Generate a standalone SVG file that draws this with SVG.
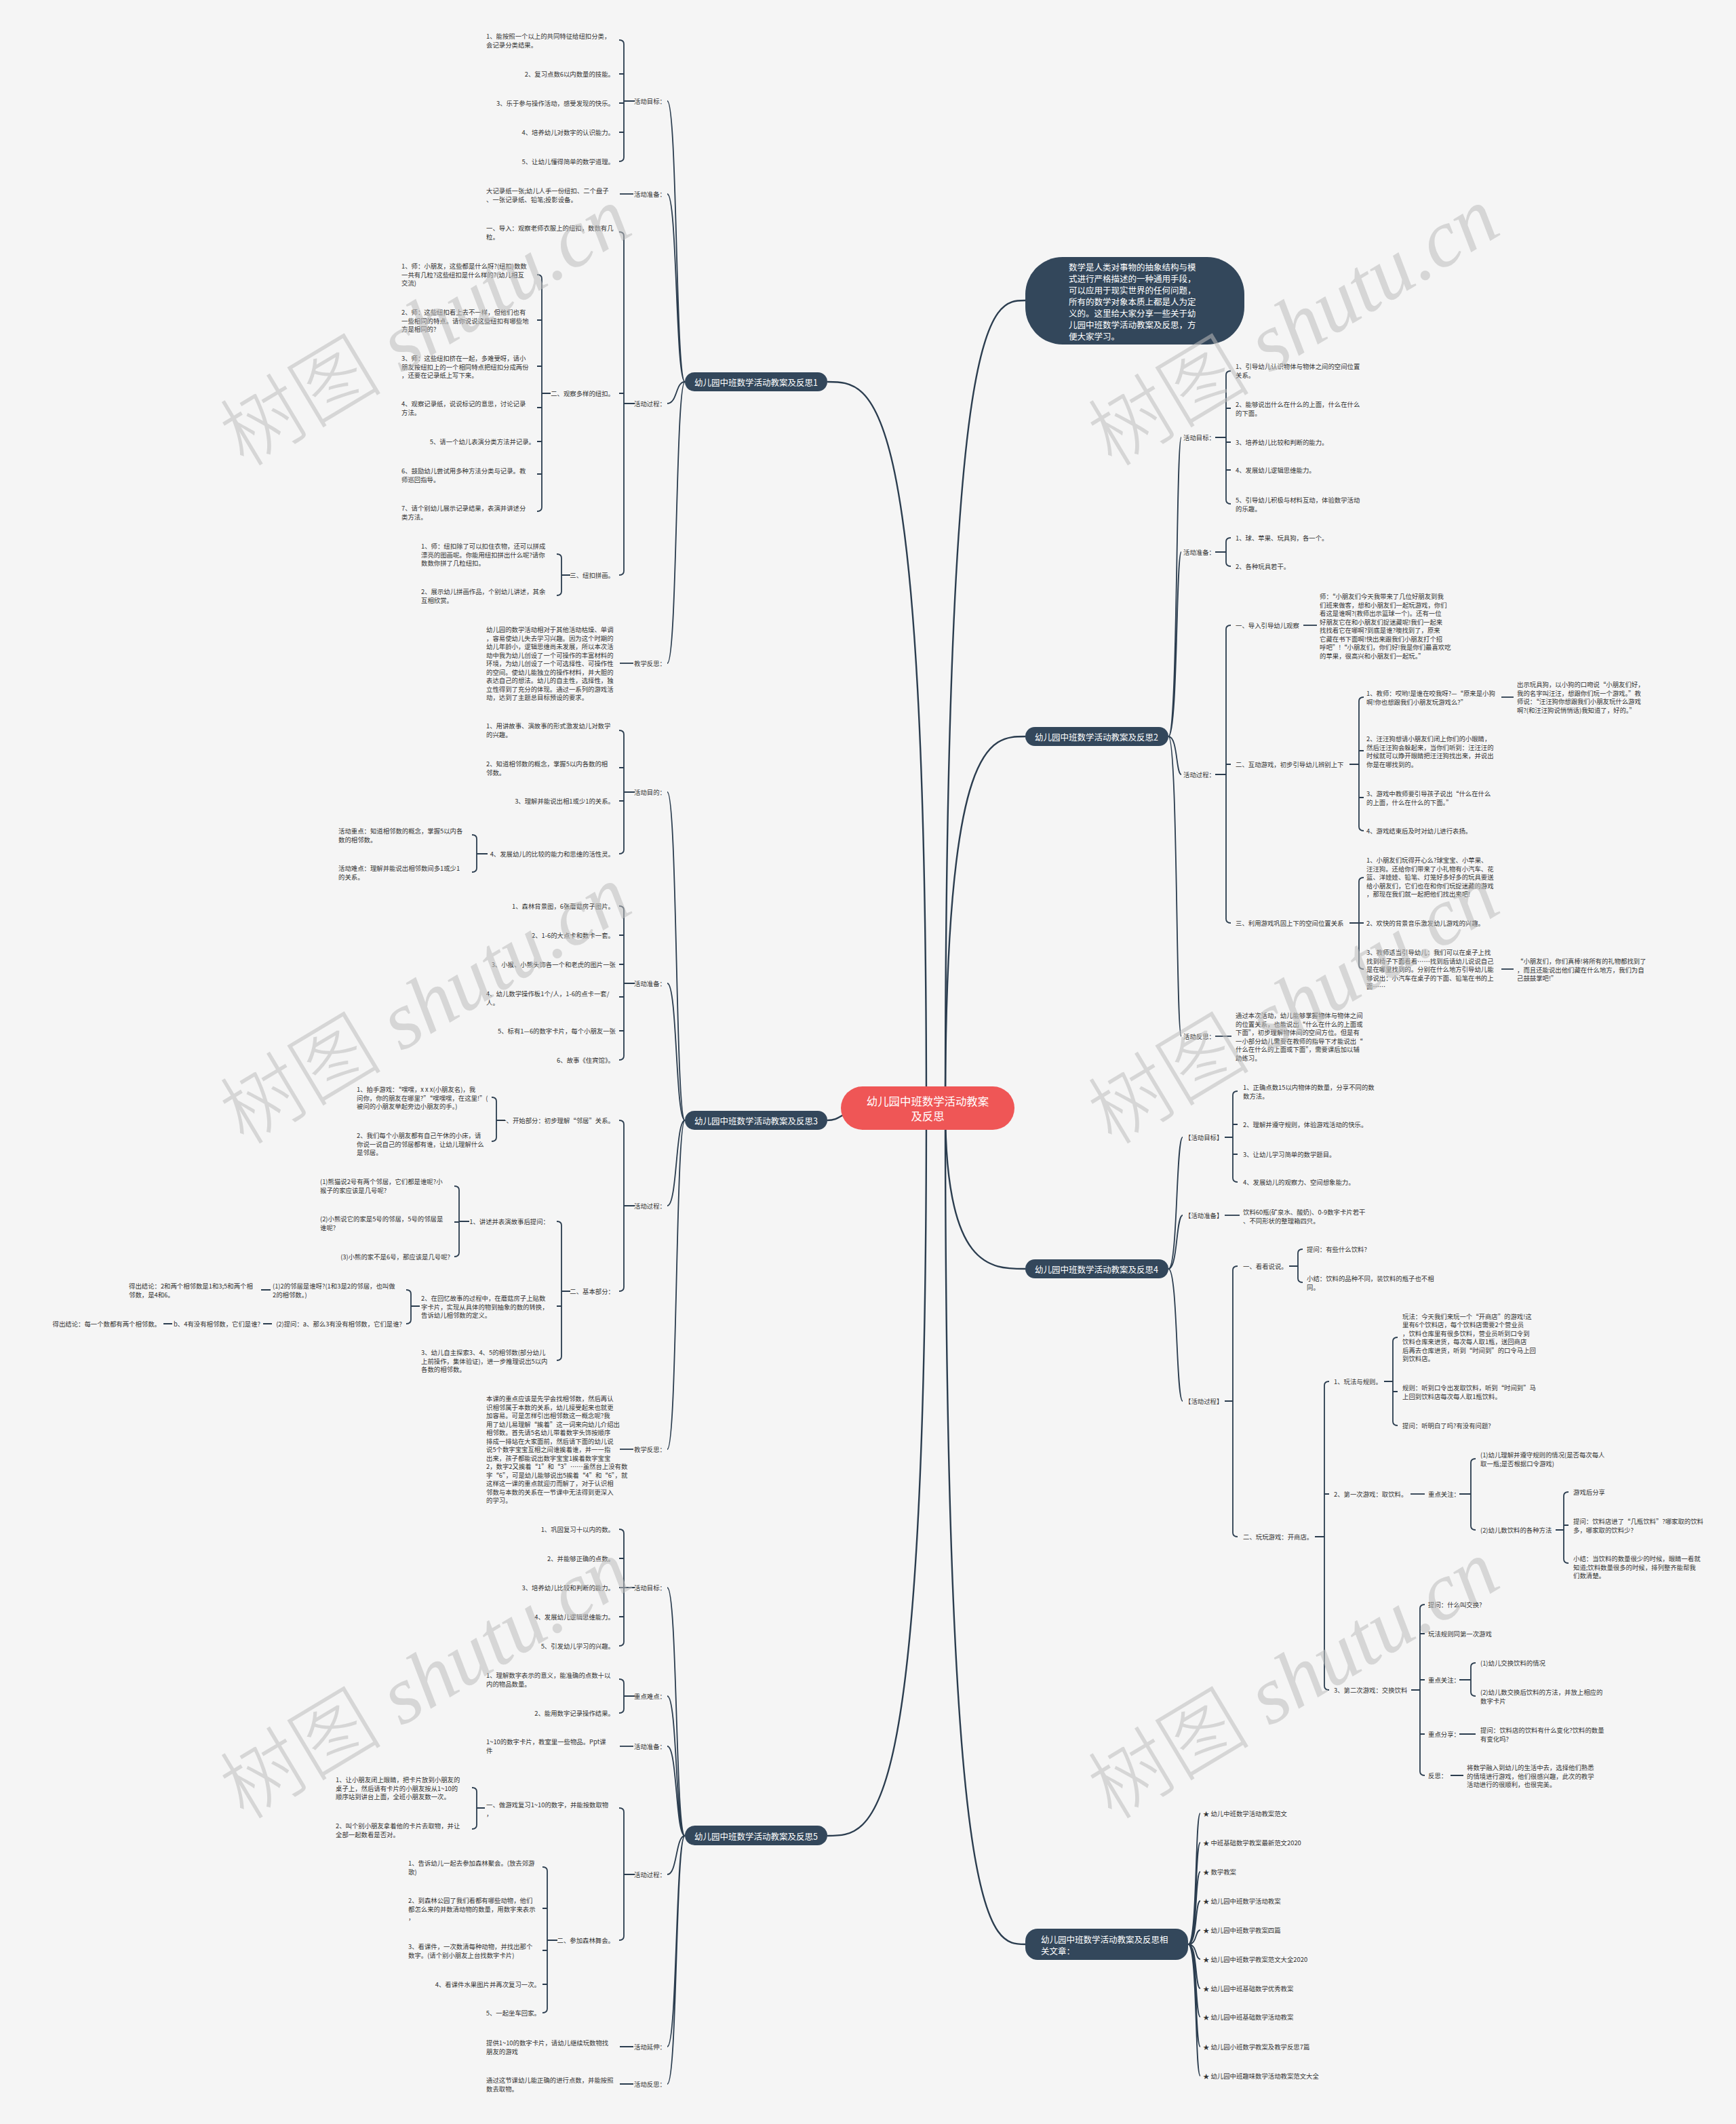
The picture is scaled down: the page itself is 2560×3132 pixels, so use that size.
<svg xmlns="http://www.w3.org/2000/svg" width="2560" height="3132" viewBox="0 0 2560 3132">
<style>
.t{font-family:"Noto Sans CJK SC","Noto Sans",sans-serif;font-size:9.4px;fill:#333;dominant-baseline:central}
.e{text-anchor:end}
.bt{font-family:"Noto Sans CJK SC","Noto Sans",sans-serif;font-size:12.5px;fill:#fff;dominant-baseline:central}
.m{text-anchor:middle}
.n{fill:#33475b}
.main{fill:none;stroke:#2b3d4f;stroke-width:2.4}
.l{fill:none;stroke:#2b3d4f;stroke-width:1.8}
.k{fill:none;stroke:#2b3d4f;stroke-width:1.8}
.wm{font-family:"Liberation Serif",serif;font-style:italic;font-size:120px;fill:#bdbdbd;opacity:0.55}
.wm tspan.cj{font-family:"Noto Sans CJK SC",sans-serif;font-style:normal;font-weight:300}
</style>
<rect width="2560" height="3132" fill="#f5f5f5"/>

<g id="connectors">
<path class="main" d="M1366,1634C1366,563 1290,563 1220,563"/>
<path class="main" d="M1260,1640C1240,1640 1240,1652 1220,1652"/>
<path class="main" d="M1366,1634C1366,2707 1290,2707 1220,2707"/>
<path class="main" d="M1394,1634C1394,443 1460,443 1512,443"/>
<path class="main" d="M1394,1634C1394,1086 1460,1086 1512,1086"/>
<path class="main" d="M1394,1634C1394,1871 1460,1871 1512,1871"/>
<path class="main" d="M1394,1634C1394,2867 1460,2867 1512,2867"/>

<path class="l" d="M1010,563C996,563 999,149 984,149M1010,563C996,563 999,286 984,286M1010,563C996,563 999,595 984,595M1010,563C996,563 999,978 984,978"/>
<path class="l" d="M1010,1652C996,1652 999,1168 984,1168M1010,1652C996,1652 999,1450 984,1450M1010,1652C996,1652 999,1778 984,1778M1010,1652C996,1652 999,2137 984,2137"/>
<path class="l" d="M1010,2707C996,2707 999,2341 984,2341M1010,2707C996,2707 999,2501 984,2501M1010,2707C996,2707 999,2575 984,2575M1010,2707C996,2707 999,2764 984,2764M1010,2707C996,2707 999,3018 984,3018M1010,2707C996,2707 999,3073 984,3073"/>
<path class="l" d="M1723,1086C1737,1086 1734,645 1742,645M1723,1086C1737,1086 1734,814 1742,814M1723,1086C1737,1086 1734,1142 1742,1142M1723,1086C1737,1086 1734,1528 1742,1528"/>
<path class="l" d="M1723,1871C1737,1871 1734,1677 1744,1677M1723,1871C1737,1871 1734,1792 1744,1792M1723,1871C1737,1871 1734,2066 1744,2066"/>
<path class="l" d="M1752,2867C1766,2867 1762,2674 1770,2674M1752,2867C1766,2867 1762,2717 1770,2717M1752,2867C1766,2867 1762,2760 1770,2760M1752,2867C1766,2867 1762,2803 1770,2803M1752,2867C1766,2867 1762,2846 1770,2846M1752,2867C1766,2867 1762,2889 1770,2889M1752,2867C1766,2867 1762,2932 1770,2932M1752,2867C1766,2867 1762,2974 1770,2974M1752,2867C1766,2867 1762,3018 1770,3018M1752,2867C1766,2867 1762,3061 1770,3061"/>

<path class="k" d="M913,59Q920,59 920,65V232Q920,238 913,238M920,109H913M920,152H913M920,195H913M936,149H920"/>
<path class="k" d="M934,286H914"/>
<path class="k" d="M913,342Q920,342 920,348V842Q920,848 913,848M920,580H913M936,595H920"/>
<path class="k" d="M792,405Q799,405 799,411V748Q799,754 792,754M799,472H792M799,540H792M799,601H792M799,651H792M799,699H792M812,580H799"/>
<path class="k" d="M821,817Q828,817 828,823V872Q828,878 821,878M841,848H828"/>
<path class="k" d="M934,978H914"/>

<path class="k" d="M913,1077Q920,1077 920,1083V1253Q920,1259 913,1259M920,1132H913M920,1181H913M936,1168H920"/>
<path class="k" d="M696,1231Q703,1231 703,1237V1280Q703,1286 696,1286M719,1259H703"/>
<path class="k" d="M913,1336Q920,1336 920,1342V1557Q920,1563 913,1563M920,1379H913M920,1422H913M920,1470H913M920,1520H913M936,1450H920"/>
<path class="k" d="M913,1652Q920,1652 920,1658V1898Q920,1904 913,1904M936,1778H920"/>
<path class="k" d="M725,1618Q732,1618 732,1624V1677Q732,1683 725,1683M745,1652H732"/>
<path class="k" d="M821,1801Q828,1801 828,1807V2000Q828,2006 821,2006M828,1926H821M841,1904H828"/>
<path class="k" d="M670,1749Q677,1749 677,1755V1847Q677,1853 670,1853M677,1802H670M692,1801H677"/>
<path class="k" d="M599,1902Q606,1902 606,1908V1946Q606,1952 599,1952M619,1926H606"/>
<path class="k" d="M399,1902H385M401,1952H388M254,1952H241"/>
<path class="k" d="M934,2137H914"/>

<path class="k" d="M913,2255Q920,2255 920,2261V2421Q920,2427 913,2427M920,2298H913M920,2341H913M920,2384H913M936,2341H920"/>
<path class="k" d="M913,2476Q920,2476 920,2482V2520Q920,2526 913,2526M936,2501H920"/>
<path class="k" d="M934,2575H914"/>
<path class="k" d="M913,2666Q920,2666 920,2672V2855Q920,2861 913,2861M936,2764H920"/>
<path class="k" d="M696,2636Q703,2636 703,2642V2691Q703,2697 696,2697M715,2666H703"/>
<path class="k" d="M800,2753Q807,2753 807,2759V2962Q807,2968 800,2968M807,2814H800M807,2876H800M807,2926H800M822,2861H807"/>
<path class="k" d="M934,3018H914M934,3073H914"/>

<path class="k" d="M1815,547Q1808,547 1808,553V737Q1808,743 1815,743M1808,602H1815M1808,652H1815M1808,693H1815M1792,645H1808"/>
<path class="k" d="M1815,793Q1808,793 1808,799V829Q1808,835 1815,835M1792,814H1808"/>
<path class="k" d="M1815,922Q1808,922 1808,928V1355Q1808,1361 1815,1361M1808,1127H1815M1792,1142H1808"/>
<path class="k" d="M1922,922H1942"/>
<path class="k" d="M2011,1028Q2004,1028 2004,1034V1219Q2004,1225 2011,1225M2004,1107H2011M2004,1176H2011M1990,1127H2004"/>
<path class="k" d="M2214,1028H2232"/>
<path class="k" d="M2011,1294Q2004,1294 2004,1300V1423Q2004,1429 2011,1429M2004,1361H2011M1990,1361H2004"/>
<path class="k" d="M2214,1429H2232"/>
<path class="k" d="M1792,1528H1816"/>

<path class="k" d="M1825,1609Q1818,1609 1818,1615V1737Q1818,1743 1825,1743M1818,1658H1825M1818,1702H1825M1806,1677H1818"/>
<path class="k" d="M1806,1792H1828"/>
<path class="k" d="M1825,1867Q1818,1867 1818,1873V2260Q1818,2266 1825,2266M1806,2066H1818"/>
<path class="k" d="M1921,1842Q1914,1842 1914,1848V1885Q1914,1891 1921,1891M1901,1867H1914"/>
<path class="k" d="M1960,2037Q1953,2037 1953,2043V2486Q1953,2492 1960,2492M1953,2203H1960M1939,2266H1953"/>
<path class="k" d="M2061,1972Q2054,1972 2054,1978V2096Q2054,2102 2061,2102M2054,2052H2061M2041,2037H2054"/>
<path class="k" d="M2080,2203H2101"/>
<path class="k" d="M2176,2151Q2169,2151 2169,2157V2250Q2169,2256 2176,2256M2152,2203H2169"/>
<path class="k" d="M2313,2200Q2306,2200 2306,2206V2299Q2306,2305 2313,2305M2306,2249H2313M2294,2256H2306"/>
<path class="k" d="M2101,2366Q2094,2366 2094,2372V2612Q2094,2618 2101,2618M2094,2409H2101M2094,2477H2101M2094,2557H2101M2081,2492H2094"/>
<path class="k" d="M2176,2452Q2169,2452 2169,2458V2495Q2169,2501 2176,2501M2152,2477H2169"/>
<path class="k" d="M2152,2557H2176M2139,2618H2158"/>
</g>

<g id="center">
<rect x="1240" y="1602" width="256" height="64" rx="32" fill="#ef5656"/>
<text class="bt m" x="1368" y="1623" style="font-size:16.4px">幼儿园中班数学活动教案</text>
<text class="bt m" x="1368" y="1645" style="font-size:16.4px">及反思</text>
</g>

<g id="intro">
<rect x="1512" y="379" width="323" height="129" rx="55" class="n"/>
<text class="bt"><tspan x="1576" y="393">数学是人类对事物的抽象结构与模</tspan><tspan x="1576" y="410">式进行严格描述的一种通用手段，</tspan><tspan x="1576" y="427">可以应用于现实世界的任何问题，</tspan><tspan x="1576" y="444">所有的数学对象本质上都是人为定</tspan><tspan x="1576" y="461">义的。这里给大家分享一些关于幼</tspan><tspan x="1576" y="478">儿园中班数学活动教案及反思，方</tspan><tspan x="1576" y="495">便大家学习。</tspan></text>
</g>

<g id="b1">
<rect x="1010" y="549" width="210" height="28" rx="14" class="n"/>
<text class="bt m" x="1115" y="563">幼儿园中班数学活动教案及反思1</text>
</g>
<g id="b1-goal">
<text class="t e" x="982" y="149">活动目标：</text>
<text class="t"><tspan x="717" y="53">1、能按照一个以上的共同特征给纽扣分类，</tspan><tspan x="717" y="65.5">会记录分类结果。</tspan></text>
<text class="t e" x="906" y="109">2、复习点数6以内数量的技能。</text>
<text class="t e" x="906" y="152">3、乐于参与操作活动，感受发现的快乐。</text>
<text class="t e" x="906" y="195">4、培养幼儿对数字的认识能力。</text>
<text class="t e" x="906" y="238">5、让幼儿懂得简单的数学道理。</text>
</g>
<g id="b1-prep">
<text class="t e" x="982" y="286">活动准备：</text>
<text class="t"><tspan x="717" y="281">大记录纸一张;幼儿人手一份纽扣、二个盘子</tspan><tspan x="717" y="293.5">、一张记录纸、铅笔;投影设备。</tspan></text>
</g>
<g id="b1-proc">
<text class="t e" x="982" y="595">活动过程：</text>
<text class="t"><tspan x="717" y="336">一、导入：观察老师衣服上的纽扣，数数有几</tspan><tspan x="717" y="348.5">粒。</tspan></text>
<text class="t e" x="906" y="580">二、观察多样的纽扣。</text>
<text class="t"><tspan x="592" y="392">1、师：小朋友，这些都是什么呀?(纽扣)数数</tspan><tspan x="592" y="404.5">一共有几粒?这些纽扣是什么样的?(幼儿相互</tspan><tspan x="592" y="417">交流)</tspan></text>
<text class="t"><tspan x="592" y="460">2、师：这些纽扣看上去不一样，但他们也有</tspan><tspan x="592" y="472.5">一些相同的特点。请你说说这些纽扣有哪些地</tspan><tspan x="592" y="485">方是相同的?</tspan></text>
<text class="t"><tspan x="592" y="528">3、师：这些纽扣挤在一起，多难受呀，请小</tspan><tspan x="592" y="540.5">朋友按纽扣上的一个相同特点把纽扣分成两份</tspan><tspan x="592" y="553">，还要在记录纸上写下来。</tspan></text>
<text class="t"><tspan x="592" y="595">4、观察记录纸，说说标记的意思，讨论记录</tspan><tspan x="592" y="607.5">方法。</tspan></text>
<text class="t e" x="789" y="651">5、请一个幼儿表演分类方法并记录。</text>
<text class="t"><tspan x="592" y="694">6、鼓励幼儿尝试用多种方法分类与记录。教</tspan><tspan x="592" y="706.5">师巡回指导。</tspan></text>
<text class="t"><tspan x="592" y="749">7、请个别幼儿展示记录结果，表演并讲述分</tspan><tspan x="592" y="761.5">类方法。</tspan></text>
<text class="t e" x="906" y="848">三、纽扣拼画。</text>
<text class="t"><tspan x="621" y="805">1、师：纽扣除了可以扣住衣物，还可以拼成</tspan><tspan x="621" y="817.5">漂亮的图画呢。你能用纽扣拼出什么呢?请你</tspan><tspan x="621" y="830">数数你拼了几粒纽扣。</tspan></text>
<text class="t"><tspan x="621" y="872">2、展示幼儿拼画作品，个别幼儿讲述，其余</tspan><tspan x="621" y="884.5">互相欣赏。</tspan></text>
</g>
<g id="b1-refl">
<text class="t e" x="982" y="978">教学反思：</text>
<text class="t"><tspan x="717" y="928">幼儿园的数学活动相对于其他活动枯燥、单调</tspan><tspan x="717" y="940.5">，容易使幼儿失去学习兴趣。因为这个时期的</tspan><tspan x="717" y="953">幼儿年龄小，逻辑思维尚未发展，所以本次活</tspan><tspan x="717" y="965.5">动中我为幼儿创设了一个可操作的丰富材料的</tspan><tspan x="717" y="978">环境，为幼儿创设了一个可选择性、可操作性</tspan><tspan x="717" y="990.5">的空间。使幼儿能独立的操作材料，并大胆的</tspan><tspan x="717" y="1003">表达自己的想法。幼儿的自主性，选择性，独</tspan><tspan x="717" y="1015.5">立性得到了充分的体现。通过一系列的游戏活</tspan><tspan x="717" y="1028">动，达到了主题总目标预设的要求。</tspan></text>
</g>

<g id="b3">
<rect x="1010" y="1638" width="210" height="28" rx="14" class="n"/>
<text class="bt m" x="1115" y="1652">幼儿园中班数学活动教案及反思3</text>
</g>
<g id="b3-goal">
<text class="t e" x="982" y="1168">活动目的：</text>
<text class="t"><tspan x="717" y="1070">1、用讲故事、演故事的形式激发幼儿对数学</tspan><tspan x="717" y="1082.5">的兴趣。</tspan></text>
<text class="t"><tspan x="717" y="1126">2、知道相邻数的概念，掌握5以内各数的相</tspan><tspan x="717" y="1138.5">邻数。</tspan></text>
<text class="t e" x="906" y="1181">3、理解并能说出相1或少1的关系。</text>
<text class="t e" x="906" y="1259">4、发展幼儿的比较的能力和思维的活性灵。</text>
<text class="t"><tspan x="499" y="1225">活动重点：知道相邻数的概念，掌握5以内各</tspan><tspan x="499" y="1237.5">数的相邻数。</tspan></text>
<text class="t"><tspan x="499" y="1280">活动难点：理解并能说出相邻数间多1或少1</tspan><tspan x="499" y="1292.5">的关系。</tspan></text>
</g>
<g id="b3-prep">
<text class="t e" x="982" y="1450">活动准备：</text>
<text class="t e" x="906" y="1336">1、森林背景图，6张蘑菇房子图片。</text>
<text class="t e" x="906" y="1379">2、1-6的大点卡和数卡一套。</text>
<text class="t e" x="908" y="1422">3、小猴、小熊头饰各一个和老虎的图片一张</text>
<text class="t"><tspan x="717" y="1465">4、幼儿数学操作板1个/人，1-6的点卡一套/</tspan><tspan x="717" y="1477.5">人。</tspan></text>
<text class="t e" x="908" y="1520">5、标有1—6的数字卡片，每个小朋友一张</text>
<text class="t e" x="906" y="1563">6、故事《住宾馆》。</text>
</g>
<g id="b3-proc">
<text class="t e" x="982" y="1778">活动过程：</text>
<text class="t e" x="906" y="1652">一、开始部分：初步理解“邻居”关系。</text>
<text class="t"><tspan x="526" y="1606">1、拍手游戏：“嘿嘿，x x x(小朋友名)，我</tspan><tspan x="526" y="1618.5">问你，你的朋友在哪里?”“嘿嘿嘿，在这里!”(</tspan><tspan x="526" y="1631">被问的小朋友举起旁边小朋友的手。)</tspan></text>
<text class="t"><tspan x="526" y="1674">2、我们每个小朋友都有自己午休的小床，请</tspan><tspan x="526" y="1686.5">你说一说自己的邻居都有谁，让幼儿理解什么</tspan><tspan x="526" y="1699">是邻居。</tspan></text>
<text class="t e" x="906" y="1904">二、基本部分：</text>
<text class="t e" x="810" y="1801">1、讲述并表演故事后提问：</text>
<text class="t"><tspan x="472" y="1742">(1)熊猫说2号有两个邻居，它们都是谁呢?小</tspan><tspan x="472" y="1754.5">猴子的家应该是几号呢?</tspan></text>
<text class="t"><tspan x="472" y="1797">(2)小熊说它的家是5号的邻居，5号的邻居是</tspan><tspan x="472" y="1809.5">谁呢?</tspan></text>
<text class="t e" x="664" y="1853">(3)小熊的家不是6号，那应该是几号呢?</text>
<text class="t"><tspan x="621" y="1914">2、在回忆故事的过程中，在蘑菇房子上贴数</tspan><tspan x="621" y="1926.5">字卡片，实现从具体的物到抽象的数的转换，</tspan><tspan x="621" y="1939">告诉幼儿相邻数的定义。</tspan></text>
<text class="t"><tspan x="402" y="1896">(1)2的邻居是谁呀?(1和3是2的邻居，也叫做</tspan><tspan x="402" y="1908.5">2的相邻数。)</tspan></text>
<text class="t"><tspan x="190" y="1896">得出结论：2和两个相邻数是1和3;5和两个相</tspan><tspan x="190" y="1908.5">邻数，是4和6。</tspan></text>
<text class="t e" x="593" y="1952">(2)提问：a、那么3有没有相邻数，它们是谁?</text>
<text class="t e" x="384" y="1952">b、4有没有相邻数，它们是谁?</text>
<text class="t e" x="237" y="1952">得出结论：每一个数都有两个相邻数。</text>
<text class="t"><tspan x="621" y="1994">3、幼儿自主探索3、4、5的相邻数(部分幼儿</tspan><tspan x="621" y="2006.5">上前操作，集体验证)，进一步推理说出5以内</tspan><tspan x="621" y="2019">各数的相邻数。</tspan></text>
</g>
<g id="b3-refl">
<text class="t e" x="982" y="2137">教学反思：</text>
<text class="t"><tspan x="717" y="2062">本课的重点应该是先学会找相邻数，然后再认</tspan><tspan x="717" y="2074.5">识相邻属于本数的关系，幼儿接受起来也就更</tspan><tspan x="717" y="2087">加容易。可是怎样引出相邻数这一概念呢?我</tspan><tspan x="717" y="2099.5">用了幼儿易理解“挨着”这一词来向幼儿介绍出</tspan><tspan x="717" y="2112">相邻数。首先请5名幼儿带着数字头饰按顺序</tspan><tspan x="717" y="2124.5">排成一排站在大家面前，然后请下面的幼儿说</tspan><tspan x="717" y="2137">说5个数字宝宝互相之间谁挨着谁，并一一指</tspan><tspan x="717" y="2149.5">出来，孩子都能说出数字宝宝1挨着数字宝宝</tspan><tspan x="717" y="2162">2，数字2又挨着“1”和“3”……虽然台上没有数</tspan><tspan x="717" y="2174.5">字“6”，可是幼儿能够说出5挨着“4”和“6”，就</tspan><tspan x="717" y="2187">这样这一课的重点就迎刃而解了，对于认识相</tspan><tspan x="717" y="2199.5">邻数与本数的关系在一节课中无法得到更深入</tspan><tspan x="717" y="2212">的学习。</tspan></text>
</g>

<g id="b5">
<rect x="1010" y="2692" width="210" height="29" rx="14.5" class="n"/>
<text class="bt m" x="1115" y="2707">幼儿园中班数学活动教案及反思5</text>
</g>
<g id="b5-goal">
<text class="t e" x="982" y="2341">活动目标：</text>
<text class="t e" x="906" y="2255">1、巩固复习十以内的数。</text>
<text class="t e" x="906" y="2298">2、并能够正确的点数。</text>
<text class="t e" x="906" y="2341">3、培养幼儿比较和判断的能力。</text>
<text class="t e" x="906" y="2384">4、发展幼儿逻辑思维能力。</text>
<text class="t e" x="906" y="2427">5、引发幼儿学习的兴趣。</text>
</g>
<g id="b5-key">
<text class="t e" x="982" y="2501">重点难点：</text>
<text class="t"><tspan x="717" y="2470">1、理解数字表示的意义，能准确的点数十以</tspan><tspan x="717" y="2482.5">内的物品数量。</tspan></text>
<text class="t e" x="906" y="2526">2、能用数字记录操作结果。</text>
</g>
<g id="b5-prep">
<text class="t e" x="982" y="2575">活动准备：</text>
<text class="t"><tspan x="717" y="2568">1~10的数字卡片，教室里一些物品。Ppt课</tspan><tspan x="717" y="2580.5">件</tspan></text>
</g>
<g id="b5-proc">
<text class="t e" x="982" y="2764">活动过程：</text>
<text class="t"><tspan x="717" y="2661">一、做游戏复习1~10的数字，并能按数取物</tspan><tspan x="717" y="2673.5">，</tspan></text>
<text class="t e" x="906" y="2861">二、参加森林舞会。</text>
<text class="t"><tspan x="495" y="2624">1、让小朋友闭上眼睛，把卡片放到小朋友的</tspan><tspan x="495" y="2636.5">桌子上，然后请有卡片的小朋友按从1~10的</tspan><tspan x="495" y="2649">顺序站到讲台上面，全班小朋友数一次。</tspan></text>
<text class="t"><tspan x="495" y="2692">2、叫个别小朋友拿着他的卡片去取物，并让</tspan><tspan x="495" y="2704.5">全部一起数看是否对。</tspan></text>
<text class="t"><tspan x="602" y="2747">1、告诉幼儿一起去参加森林聚会。(放去郊游</tspan><tspan x="602" y="2759.5">歌)</tspan></text>
<text class="t"><tspan x="602" y="2802">2、到森林公园了我们看都有哪些动物，他们</tspan><tspan x="602" y="2814.5">都怎么来的并数清动物的数量，用数字来表示</tspan><tspan x="602" y="2827">，</tspan></text>
<text class="t"><tspan x="602" y="2870">3、看课件，一次数清每种动物，并找出那个</tspan><tspan x="602" y="2882.5">数字。(请个别小朋友上台找数字卡片)</tspan></text>
<text class="t e" x="797" y="2926">4、看课件水果图片并再次复习一次。</text>
<text class="t e" x="797" y="2968">5、一起坐车回家。</text>
</g>
<g id="b5-ext">
<text class="t e" x="982" y="3018">活动延伸：</text>
<text class="t"><tspan x="717" y="3012">提供1~10的数字卡片，请幼儿继续玩数物找</tspan><tspan x="717" y="3024.5">朋友的游戏</tspan></text>
</g>
<g id="b5-refl">
<text class="t e" x="982" y="3073">活动反思：</text>
<text class="t"><tspan x="717" y="3067">通过这节课幼儿能正确的进行点数，并能按照</tspan><tspan x="717" y="3079.5">数去取物。</tspan></text>
</g>

<g id="b2">
<rect x="1512" y="1072" width="211" height="28" rx="14" class="n"/>
<text class="bt m" x="1617" y="1086">幼儿园中班数学活动教案及反思2</text>
</g>
<g id="b2-goal">
<text class="t" x="1745" y="645">活动目标：</text>
<text class="t"><tspan x="1822" y="540">1、引导幼儿认识物体与物体之间的空间位置</tspan><tspan x="1822" y="552.5">关系。</tspan></text>
<text class="t"><tspan x="1822" y="596">2、能够说出什么在什么的上面，什么在什么</tspan><tspan x="1822" y="608.5">的下面。</tspan></text>
<text class="t" x="1822" y="652">3、培养幼儿比较和判断的能力。</text>
<text class="t" x="1822" y="693">4、发展幼儿逻辑思维能力。</text>
<text class="t"><tspan x="1822" y="737">5、引导幼儿积极与材料互动，体验数学活动</tspan><tspan x="1822" y="749.5">的乐趣。</tspan></text>
</g>
<g id="b2-prep">
<text class="t" x="1745" y="814">活动准备：</text>
<text class="t" x="1822" y="793">1、球、苹果、玩具狗，各一个。</text>
<text class="t" x="1822" y="835">2、各种玩具若干。</text>
</g>
<g id="b2-proc">
<text class="t" x="1745" y="1142">活动过程：</text>
<text class="t" x="1822" y="922">一、导入引导幼儿观察</text>
<text class="t"><tspan x="1946" y="879">师：“小朋友们今天我带来了几位好朋友到我</tspan><tspan x="1946" y="891.5">们班来做客，想和小朋友们一起玩游戏，你们</tspan><tspan x="1946" y="904">看这是谁啊?(教师出示篮球一个)。还有一位</tspan><tspan x="1946" y="916.5">好朋友它在和小朋友们捉迷藏呢!我们一起来</tspan><tspan x="1946" y="929">找找看它在哪啊?到底是谁?噢找到了，原来</tspan><tspan x="1946" y="941.5">它藏在书下面啊!快出来跟我们小朋友打个招</tspan><tspan x="1946" y="954">呼吧”!“小朋友们，你们好!我是你们最喜欢吃</tspan><tspan x="1946" y="966.5">的苹果，很高兴和小朋友们一起玩。”</tspan></text>
<text class="t" x="1822" y="1127">二、互动游戏，初步引导幼儿辨别上下</text>
<text class="t"><tspan x="2015" y="1022">1、教师：哎哟!是谁在咬我呀?—“原来是小狗</tspan><tspan x="2015" y="1034.5">啊!你也想跟我们小朋友玩游戏么?”</tspan></text>
<text class="t"><tspan x="2237" y="1009">出示玩具狗，以小狗的口吻说“小朋友们好，</tspan><tspan x="2237" y="1021.5">我的名字叫汪汪，想跟你们玩一个游戏。”教</tspan><tspan x="2237" y="1034">师说：“汪汪狗你想跟我们小朋友玩什么游戏</tspan><tspan x="2237" y="1046.5">啊?(和汪汪狗说悄悄话)我知道了，好的。”</tspan></text>
<text class="t"><tspan x="2015" y="1089">2、汪汪狗想请小朋友们闭上你们的小眼睛，</tspan><tspan x="2015" y="1101.5">然后汪汪狗会躲起来，当你们听到：汪汪汪的</tspan><tspan x="2015" y="1114">时候就可以睁开眼睛把汪汪狗找出来，并说出</tspan><tspan x="2015" y="1126.5">你是在哪找到的。</tspan></text>
<text class="t"><tspan x="2015" y="1170">3、游戏中教师要引导孩子说出“什么在什么</tspan><tspan x="2015" y="1182.5">的上面，什么在什么的下面。”</tspan></text>
<text class="t" x="2015" y="1225">4、游戏结束后及时对幼儿进行表扬。</text>
<text class="t" x="1822" y="1361">三、利用游戏巩固上下的空间位置关系</text>
<text class="t"><tspan x="2015" y="1268">1、小朋友们玩得开心么?球宝宝、小苹果、</tspan><tspan x="2015" y="1280.5">汪汪狗。还给你们带来了小礼物有小汽车、花</tspan><tspan x="2015" y="1293">篮、洋娃娃、铅笔、灯笼好多好多的玩具要送</tspan><tspan x="2015" y="1305.5">给小朋友们，它们也在和你们玩捉迷藏的游戏</tspan><tspan x="2015" y="1318">，那现在我们就一起把他们找出来吧!</tspan></text>
<text class="t" x="2015" y="1361">2、欢快的背景音乐激发幼儿游戏的兴趣。</text>
<text class="t"><tspan x="2015" y="1404">3、教师适当引导幼儿：我们可以在桌子上找</tspan><tspan x="2015" y="1416.5">找到椅子下面看看……找到后请幼儿说说自己</tspan><tspan x="2015" y="1429">是在哪里找到的。分别在什么地方引导幼儿能</tspan><tspan x="2015" y="1441.5">够说出：小汽车在桌子的下面、铅笔在书的上</tspan><tspan x="2015" y="1454">面……</tspan></text>
<text class="t"><tspan x="2237" y="1417">“小朋友们，你们真棒!将所有的礼物都找到了</tspan><tspan x="2237" y="1429.5">，而且还能说出他们藏在什么地方，我们为自</tspan><tspan x="2237" y="1442">己鼓鼓掌吧!”</tspan></text>
</g>
<g id="b2-refl">
<text class="t" x="1745" y="1528">活动反思：</text>
<text class="t"><tspan x="1822" y="1497">通过本次活动，幼儿能够掌握物体与物体之间</tspan><tspan x="1822" y="1509.5">的位置关系，也能说出“什么在什么的上面或</tspan><tspan x="1822" y="1522">下面”，初步理解物体间的空间方位。但是有</tspan><tspan x="1822" y="1534.5">一小部分幼儿需要在教师的指导下才能说出“</tspan><tspan x="1822" y="1547">什么在什么的上面或下面”，需要课后加以辅</tspan><tspan x="1822" y="1559.5">助练习。</tspan></text>
</g>

<g id="b4">
<rect x="1512" y="1857" width="211" height="28" rx="14" class="n"/>
<text class="bt m" x="1617" y="1871">幼儿园中班数学活动教案及反思4</text>
</g>
<g id="b4-goal">
<text class="t" x="1747" y="1677">【活动目标】</text>
<text class="t"><tspan x="1833" y="1603">1、正确点数15以内物体的数量，分享不同的数</tspan><tspan x="1833" y="1615.5">数方法。</tspan></text>
<text class="t" x="1833" y="1658">2、理解并遵守规则，体验游戏活动的快乐。</text>
<text class="t" x="1833" y="1702">3、让幼儿学习简单的数学题目。</text>
<text class="t" x="1833" y="1743">4、发展幼儿的观察力、空间想象能力。</text>
</g>
<g id="b4-prep">
<text class="t" x="1747" y="1792">【活动准备】</text>
<text class="t"><tspan x="1833" y="1787">饮料60瓶(矿泉水、酸奶)、0-9数字卡片若干</tspan><tspan x="1833" y="1799.5">、不同形状的整理箱四只。</tspan></text>
</g>
<g id="b4-proc">
<text class="t" x="1747" y="2066">【活动过程】</text>
<text class="t" x="1833" y="1867">一、看看说说。</text>
<text class="t" x="1927" y="1842">提问：有些什么饮料?</text>
<text class="t"><tspan x="1927" y="1885">小结：饮料的品种不同，装饮料的瓶子也不相</tspan><tspan x="1927" y="1897.5">同。</tspan></text>
<text class="t" x="1833" y="2266">二、玩玩游戏：开商店。</text>
<text class="t" x="1967" y="2037">1、玩法与规则。</text>
<text class="t"><tspan x="2068" y="1941">玩法：今天我们来玩一个“开商店”的游戏!这</tspan><tspan x="2068" y="1953.4">里有6个饮料店，每个饮料店需要2个营业员</tspan><tspan x="2068" y="1965.8">，饮料仓库里有很多饮料，营业员听到口令到</tspan><tspan x="2068" y="1978.2">饮料仓库来进货，每次每人取1瓶，送回商店</tspan><tspan x="2068" y="1990.6">后再去仓库进货，听到“时间到”的口令马上回</tspan><tspan x="2068" y="2003">到饮料店。</tspan></text>
<text class="t"><tspan x="2068" y="2046">规则：听到口令出发取饮料，听到“时间到”马</tspan><tspan x="2068" y="2058.5">上回到饮料店每次每人取1瓶饮料。</tspan></text>
<text class="t" x="2068" y="2102">提问：听明白了吗?有没有问题?</text>
<text class="t" x="1967" y="2203">2、第一次游戏：取饮料。</text>
<text class="t" x="2106" y="2203">重点关注：</text>
<text class="t"><tspan x="2183" y="2145">(1)幼儿理解并遵守规则的情况(是否每次每人</tspan><tspan x="2183" y="2157.5">取一瓶;是否根据口令游戏)</tspan></text>
<text class="t" x="2183" y="2256">(2)幼儿数饮料的各种方法</text>
<text class="t" x="2320" y="2200">游戏后分享</text>
<text class="t"><tspan x="2320" y="2243">提问：饮料店进了“几瓶饮料”?哪家取的饮料</tspan><tspan x="2320" y="2255.5">多，哪家取的饮料少?</tspan></text>
<text class="t"><tspan x="2320" y="2298">小结：当饮料的数量很少的时候，眼睛一看就</tspan><tspan x="2320" y="2310.5">知道;饮料数量很多的时候，排列整齐能帮我</tspan><tspan x="2320" y="2323">们数清楚。</tspan></text>
<text class="t" x="1967" y="2492">3、第二次游戏：交换饮料</text>
<text class="t" x="2106" y="2366">提问：什么叫交换?</text>
<text class="t" x="2106" y="2409">玩法规则同第一次游戏</text>
<text class="t" x="2106" y="2477">重点关注：</text>
<text class="t" x="2183" y="2452">(1)幼儿交换饮料的情况</text>
<text class="t"><tspan x="2183" y="2495">(2)幼儿数交换后饮料的方法，并放上相应的</tspan><tspan x="2183" y="2507.5">数字卡片</tspan></text>
<text class="t" x="2106" y="2557">重点分享：</text>
<text class="t"><tspan x="2183" y="2551">提问：饮料店的饮料有什么变化?饮料的数量</tspan><tspan x="2183" y="2563.5">有变化吗?</tspan></text>
<text class="t" x="2106" y="2618">反思：</text>
<text class="t"><tspan x="2163" y="2606">将数学融入到幼儿的生活中去，选择他们熟悉</tspan><tspan x="2163" y="2618.5">的情境进行游戏，他们很感兴趣，此次的教学</tspan><tspan x="2163" y="2631">活动进行的很顺利，也很完美。</tspan></text>
</g>

<g id="b6">
<rect x="1512" y="2844" width="240" height="46" rx="18" class="n"/>
<text class="bt"><tspan x="1535" y="2859">幼儿园中班数学活动教案及反思相</tspan><tspan x="1535" y="2876">关文章：</tspan></text>
</g>
<g id="b6-links">
<text class="t" x="1774" y="2674">★ 幼儿中班数学活动教案范文</text>
<text class="t" x="1774" y="2717">★ 中班基础数学教案最新范文2020</text>
<text class="t" x="1774" y="2760">★ 数学教案</text>
<text class="t" x="1774" y="2803">★ 幼儿园中班数学活动教案</text>
<text class="t" x="1774" y="2846">★ 幼儿园中班数学教案四篇</text>
<text class="t" x="1774" y="2889">★ 幼儿园中班数学教案范文大全2020</text>
<text class="t" x="1774" y="2932">★ 幼儿园中班基础数学优秀教案</text>
<text class="t" x="1774" y="2974">★ 幼儿园中班基础数学活动教案</text>
<text class="t" x="1774" y="3018">★ 幼儿园小班数学教案及教学反思7篇</text>
<text class="t" x="1774" y="3061">★ 幼儿园中班趣味数学活动教案范文大全</text>
</g>

<g id="watermarks">
<text class="wm" transform="translate(360,690) rotate(-31)"><tspan class="cj">树图</tspan> shutu.cn</text>
<text class="wm" transform="translate(1640,690) rotate(-31)"><tspan class="cj">树图</tspan> shutu.cn</text>
<text class="wm" transform="translate(360,1690) rotate(-31)"><tspan class="cj">树图</tspan> shutu.cn</text>
<text class="wm" transform="translate(1640,1690) rotate(-31)"><tspan class="cj">树图</tspan> shutu.cn</text>
<text class="wm" transform="translate(360,2685) rotate(-31)"><tspan class="cj">树图</tspan> shutu.cn</text>
<text class="wm" transform="translate(1640,2685) rotate(-31)"><tspan class="cj">树图</tspan> shutu.cn</text>
</g>
</svg>
